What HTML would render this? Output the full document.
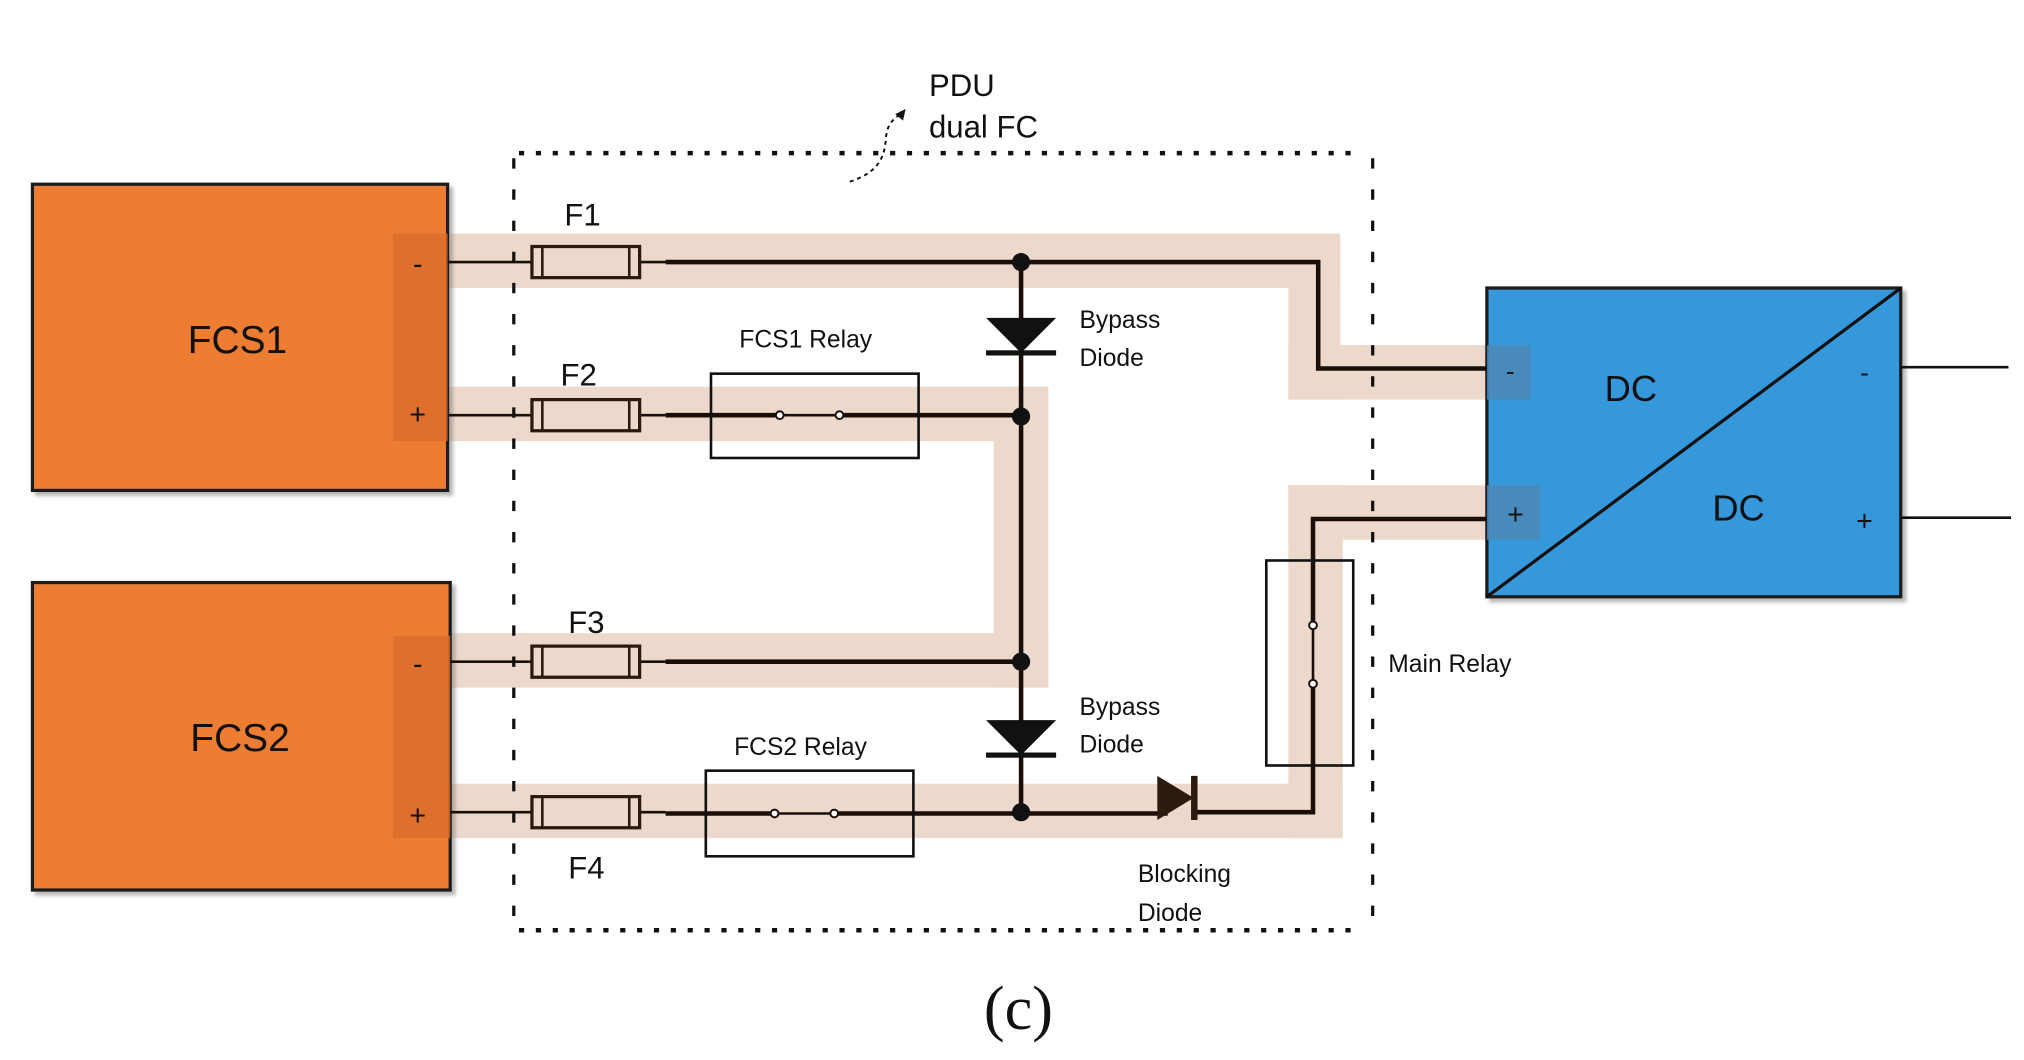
<!DOCTYPE html>
<html><head><meta charset="utf-8"><style>
html,body{margin:0;padding:0;background:#fff;}
svg{display:block;}
text{font-family:"Liberation Sans",sans-serif;fill:#111;}
</style></head><body>
<svg width="2024" height="1060" viewBox="0 0 1560 817" preserveAspectRatio="none" xmlns="http://www.w3.org/2000/svg">
<defs>
<filter id="sh" x="-5%" y="-5%" width="115%" height="115%"><feDropShadow dx="3" dy="3" stdDeviation="1.5" flood-color="#888" flood-opacity="0.6"/></filter>
</defs>
<!-- highlight bands -->
<g fill="#EDD9CC">
<rect x="345" y="180" width="688" height="42"/>
<rect x="993" y="180" width="40" height="128"/>
<rect x="993" y="266" width="187" height="42"/>
<rect x="345" y="298" width="463" height="42"/>
<rect x="766" y="298" width="42" height="232"/>
<rect x="345" y="488" width="463" height="42"/>
<rect x="345" y="604" width="690" height="42"/>
<rect x="993" y="374" width="42" height="272"/>
<rect x="993" y="374" width="194" height="42"/>
</g>
<!-- FCS boxes -->
<rect x="25" y="142" width="320" height="236" fill="#ED7D31" stroke="#1a1a1a" stroke-width="2.5" filter="url(#sh)"/>
<rect x="25" y="449" width="322" height="237" fill="#ED7D31" stroke="#1a1a1a" stroke-width="2.5" filter="url(#sh)"/>
<rect x="303" y="180" width="42" height="160" fill="#D96C2C" opacity="0.8"/>
<rect x="303" y="490" width="44" height="156" fill="#D96C2C" opacity="0.8"/>
<text x="183" y="272" font-size="30" text-anchor="middle">FCS1</text>
<text x="185" y="579" font-size="30" text-anchor="middle">FCS2</text>
<text x="322" y="211" font-size="22" text-anchor="middle">-</text>
<text x="322" y="327" font-size="22" text-anchor="middle">+</text>
<text x="322" y="519" font-size="22" text-anchor="middle">-</text>
<text x="322" y="636" font-size="22" text-anchor="middle">+</text>
<!-- DC box -->
<rect x="1146" y="222" width="319" height="238" fill="#3598DB" stroke="#1a1a1a" stroke-width="2.5" filter="url(#sh)"/>
<rect x="1146" y="266" width="34" height="42" fill="#4F87B5" opacity="0.8"/>
<rect x="1146" y="374" width="41" height="42" fill="#4F87B5" opacity="0.8"/>
<line x1="1146" y1="460" x2="1465" y2="222" stroke="#111" stroke-width="2.5"/>
<text x="1257" y="309" font-size="28" text-anchor="middle">DC</text>
<text x="1340" y="401" font-size="28" text-anchor="middle">DC</text>
<text x="1164" y="293" font-size="20" text-anchor="middle">-</text>
<text x="1168" y="404" font-size="22" text-anchor="middle">+</text>
<text x="1437" y="294" font-size="20" text-anchor="middle">-</text>
<text x="1437" y="409" font-size="22" text-anchor="middle">+</text>
<line x1="1465" y1="283" x2="1548" y2="283" stroke="#111" stroke-width="2"/>
<line x1="1465" y1="399" x2="1550" y2="399" stroke="#111" stroke-width="2"/>
<!-- dotted PDU box -->
<g stroke="#111" stroke-width="3.5" fill="none">
<line x1="400" y1="118" x2="1050" y2="118" stroke-dasharray="4 9"/>
<line x1="400" y1="717" x2="1050" y2="717" stroke-dasharray="4 9"/>
<line x1="396" y1="122" x2="396" y2="712" stroke-dasharray="8 16" stroke-width="2.5"/>
<line x1="1058" y1="122" x2="1058" y2="712" stroke-dasharray="8 16" stroke-width="2.5"/>
</g>
<!-- wires -->
<g stroke="#1a0e08" fill="none">
<g stroke-width="2"><line x1="345" y1="202" x2="410" y2="202"/><line x1="345" y1="320" x2="410" y2="320"/><line x1="347" y1="510" x2="410" y2="510"/><line x1="347" y1="626" x2="410" y2="626"/>
<line x1="493" y1="202" x2="513" y2="202"/><line x1="493" y1="320" x2="513" y2="320"/><line x1="493" y1="510" x2="513" y2="510"/><line x1="493" y1="626" x2="513" y2="626"/>
<line x1="601" y1="320" x2="647" y2="320"/><line x1="597" y1="627" x2="643" y2="627"/><line x1="1012" y1="482" x2="1012" y2="527"/></g>
<g stroke-width="3.5">
<polyline points="513,202 1016,202 1016,284 1146,284"/>
<line x1="513" y1="320" x2="601" y2="320"/><line x1="647" y1="320" x2="787" y2="320"/>
<line x1="787" y1="202" x2="787" y2="626"/>
<line x1="513" y1="510" x2="787" y2="510"/>
<line x1="513" y1="627" x2="597" y2="627"/><line x1="643" y1="627" x2="900" y2="627"/>
<polyline points="920,626 1012,626 1012,527"/><polyline points="1012,482 1012,400 1146,400"/>
</g>
</g>
<g fill="#fff" stroke="#1a0e08" stroke-width="1.5">
<circle cx="601" cy="320" r="3"/><circle cx="647" cy="320" r="3"/><circle cx="597" cy="627" r="3"/><circle cx="643" cy="627" r="3"/>
<circle cx="1012" cy="482" r="3"/><circle cx="1012" cy="527" r="3"/>
</g>
<g fill="#111"><circle cx="787" cy="202" r="7"/><circle cx="787" cy="321" r="7"/><circle cx="787" cy="510" r="7"/><circle cx="787" cy="626" r="7"/></g>
<!-- fuses -->
<g fill="#EDD9CC" stroke="#2a1a10" stroke-width="2.5">
<rect x="410" y="190" width="83" height="24"/><rect x="410" y="308" width="83" height="24"/>
<rect x="410" y="498" width="83" height="24"/><rect x="410" y="614" width="83" height="24"/>
</g>
<g stroke="#2a1a10" stroke-width="2"><line x1="418" y1="190" x2="418" y2="214"/><line x1="485" y1="190" x2="485" y2="214"/><line x1="418" y1="308" x2="418" y2="332"/><line x1="485" y1="308" x2="485" y2="332"/><line x1="418" y1="498" x2="418" y2="522"/><line x1="485" y1="498" x2="485" y2="522"/><line x1="418" y1="614" x2="418" y2="638"/><line x1="485" y1="614" x2="485" y2="638"/></g>
<!-- relays -->
<g fill="none" stroke="#111" stroke-width="2">
<rect x="548" y="288" width="160" height="65"/><rect x="544" y="594" width="160" height="66"/><rect x="976" y="432" width="67" height="158"/>
</g>
<!-- diodes -->
<g fill="#111">
<polygon points="760,245 814,245 787,272"/><rect x="760" y="270" width="54" height="4"/>
<polygon points="760,555 814,555 787,582"/><rect x="760" y="580" width="54" height="4"/>
<polygon points="892,598 892,632 920,615" fill="#2a1a10"/><rect x="918" y="598" width="5" height="34" fill="#2a1a10"/>
</g>
<!-- labels -->
<text x="449" y="174" font-size="24" text-anchor="middle">F1</text>
<text x="446" y="297" font-size="24" text-anchor="middle">F2</text>
<text x="452" y="488" font-size="24" text-anchor="middle">F3</text>
<text x="452" y="677" font-size="24" text-anchor="middle">F4</text>
<text x="621" y="268" font-size="19" text-anchor="middle">FCS1 Relay</text>
<text x="617" y="582" font-size="19" text-anchor="middle">FCS2 Relay</text>
<text x="832" y="253" font-size="19">Bypass</text><text x="832" y="282" font-size="19">Diode</text>
<text x="832" y="551" font-size="19">Bypass</text><text x="832" y="580" font-size="19">Diode</text>
<text x="1070" y="518" font-size="19">Main Relay</text>
<text x="877" y="680" font-size="19">Blocking</text><text x="877" y="710" font-size="19">Diode</text>
<text x="716" y="74" font-size="24">PDU</text><text x="716" y="106" font-size="24">dual FC</text>
<path d="M655,140 C680,132 682,118 683,105 C684,96 688,92 694,88" fill="none" stroke="#111" stroke-width="1.5" stroke-dasharray="3 3"/>
<polygon points="698,84 690,88 696,93" fill="#111"/>
<text x="785" y="793" font-size="48" text-anchor="middle" style="font-family:'Liberation Serif',serif">(c)</text>
</svg>
</body></html>
